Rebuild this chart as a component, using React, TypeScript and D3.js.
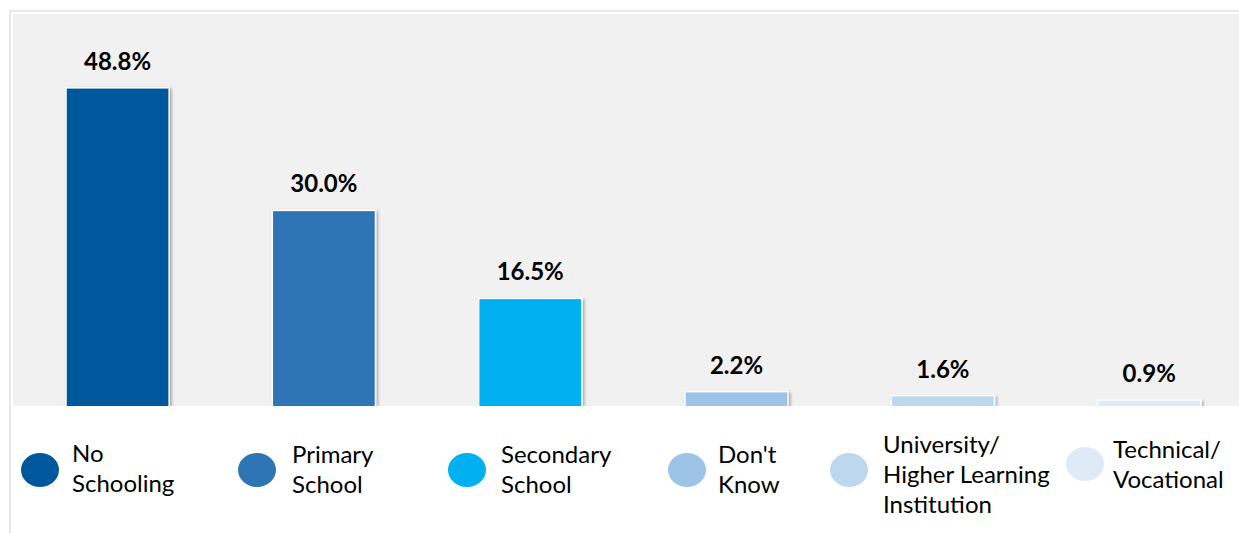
import React from "react";
import * as d3 from "d3";

const categories = ["No Schooling", "Primary School", "Secondary School", "Don't Know", "University/ Higher Learning Institution", "Technical/ Vocational"];
const values = [48.8, 30.0, 16.5, 2.2, 1.6, 0.9];
const valueLabels = ["48.8%", "30.0%", "16.5%", "2.2%", "1.6%", "0.9%"];
const colors = ["#00589c", "#2e75b6", "#00b0f0", "#9dc3e6", "#bdd7ee", "#deebf7"];
const legendLines = [["No", "Schooling"], ["Primary", "School"], ["Secondary", "School"], ["Don't", "Know"], ["University/", "Higher Learning", "Institution"], ["Technical/", "Vocational"]];
const legendCx = [40, 257, 467, 687, 849, 1085];
const legendCy = [470, 470, 470, 470, 470, 464];
const legendTx = [72, 292, 501, 718, 883, 1113];
const legendFirstBaseline = [462, 463, 463, 463, 453, 458];

const W = 1239;
const H = 533;
const baseY = 406;

export default function App() {
  const x = d3.scaleBand<string>().domain(categories).range([14.4, 1252.4]).paddingInner(0.5).paddingOuter(0.25);
  const y = d3.scaleLinear().domain([0, 50]).range([baseY, baseY - 326]);
  const font = "'Lato', 'Open Sans', sans-serif";
  return (
    <svg width={W} height={H} style={{ position: "absolute", left: 0, top: 0, background: "#fff" }} fontFamily={font}>
      <defs>
        <filter id="sh" x="-10%" y="-10%" width="130%" height="130%">
          <feDropShadow dx="1.5" dy="1.5" stdDeviation="1.5" floodColor="#000" floodOpacity="0.35" />
        </filter>
        <clipPath id="plotclip">
          <rect x={0} y={0} width={W} height={baseY} />
        </clipPath>
      </defs>
      <rect x={10} y={11} width={W} height={H} fill="#fff" stroke="#d9d9d9" strokeWidth={1.2} />
      <rect x={13} y={14} width={W} height={baseY - 14} fill="#f1f1f1" />
      <g clipPath="url(#plotclip)">
        {categories.map((c, i) => (
          <rect key={c} x={x(c)} y={y(values[i])} width={x.bandwidth()} height={baseY - y(values[i]) + 2}
            fill={colors[i]} stroke="#fff" strokeWidth={1.5} filter="url(#sh)" />
        ))}
      </g>
      {categories.map((c, i) => (
        <text key={c + "l"} x={(x(c) as number) + x.bandwidth() / 2} y={y(values[i]) - 18}
          textAnchor="middle" fontSize={24} fontWeight={700} fill="#000">{valueLabels[i]}</text>
      ))}
      {categories.map((c, i) => (
        <g key={c + "g"}>
          <ellipse cx={legendCx[i]} cy={legendCy[i]} rx={19} ry={17} fill={colors[i]} />
          <text x={legendTx[i]} y={legendFirstBaseline[i]} fontSize={24} fill="#000">
            {legendLines[i].map((ln, j) => (
              <tspan key={j} x={legendTx[i]} dy={j === 0 ? 0 : 30}>{ln}</tspan>
            ))}
          </text>
        </g>
      ))}
    </svg>
  );
}
